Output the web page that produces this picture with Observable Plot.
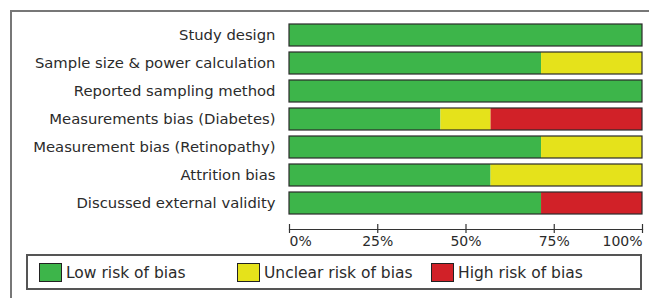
<!DOCTYPE html>
<html><head><meta charset="utf-8">
<script src="https://cdn.jsdelivr.net/npm/d3@7"></script>
<script src="https://cdn.jsdelivr.net/npm/@observablehq/plot@0.6"></script>
<style>
body{margin:0;background:#fff;font-family:"DejaVu Sans",Verdana,sans-serif;}
#wrap{position:relative;width:649px;height:298px;overflow:hidden;background:#fff;}
#frame{position:absolute;left:10px;top:10px;width:700px;height:400px;border:2px solid #777;box-sizing:border-box;}
#chart{position:absolute;left:0;top:0;}
#legend{position:absolute;left:26px;top:254px;width:616px;height:36px;border:2px solid #555;box-sizing:border-box;font-size:15.5px;color:#2b2b2b;}
.item{position:absolute;top:7px;display:flex;align-items:center;white-space:nowrap;}
.sw{width:23px;height:19px;border:1.5px solid #222;box-sizing:border-box;margin-right:4px;}
</style></head><body>
<div id="wrap"><div id="frame"></div><div id="chart"></div><div id="legend"></div></div>
<script>
const domains = ["Study design","Sample size & power calculation","Reported sampling method","Measurements bias (Diabetes)","Measurement bias (Retinopathy)","Attrition bias","Discussed external validity"];
const low = [100, 71.4, 100, 42.9, 71.4, 57.1, 71.4];
const unclear = [0, 28.6, 0, 14.2, 28.6, 42.9, 0];
const high = [0, 0, 0, 42.9, 0, 0, 28.6];
const categories = ["Low risk of bias","Unclear risk of bias","High risk of bias"];
const colors = ["#3db54a","#e5e21b","#d12128"];
const tickValues = [0, 25, 50, 75, 100];
const tickLabels = ["0%","25%","50%","75%","100%"];
const legendLeft = [11, 209, 403];

const series = [low, unclear, high];
const data = [];
domains.forEach((d, i) => categories.forEach((c, j) => data.push({domain: d, risk: c, value: series[j][i]})));
const fmt = v => tickLabels[tickValues.indexOf(v)];

const plot = Plot.plot({
  width: 649, height: 250,
  marginLeft: 289, marginRight: 7, marginTop: 19, marginBottom: 31,
  style: {fontFamily: "DejaVu Sans, Verdana, sans-serif", fontSize: "14.8px", color: "#2b2b2b", background: "transparent"},
  x: {domain: [0, 100], axis: null},
  y: {domain: domains, paddingInner: 0.23, paddingOuter: 0.115, axis: null},
  color: {domain: categories, range: colors},
  marks: [
    Plot.barX(data, {x: "value", y: "domain", fill: "risk", order: categories}),
    Plot.barX(domains, {x1: 0, x2: 100, y: d => d, fill: "none", stroke: "#2a2a2a", strokeWidth: 1.2}),
    Plot.axisY({tickSize: 0, tickPadding: 14, fontSize: 14.8, fill: "#2b2b2b", label: null}),
    Plot.frame({anchor: "bottom", dy: 10, stroke: "#333", strokeWidth: 1.2}),
    Plot.axisX({ticks: tickValues, tickSize: 9, dy: 5, text: null, stroke: "#333", strokeWidth: 1.2, label: null}),
    Plot.axisX({ticks: [tickValues[0]], tickSize: 0, tickPadding: 17, tickFormat: fmt, textAnchor: "start", fontSize: 14, fill: "#2b2b2b", label: null}),
    Plot.axisX({ticks: tickValues.slice(1, 4), tickSize: 0, tickPadding: 17, tickFormat: fmt, textAnchor: "middle", fontSize: 14, fill: "#2b2b2b", label: null}),
    Plot.axisX({ticks: [tickValues[4]], tickSize: 0, tickPadding: 17, tickFormat: fmt, textAnchor: "end", fontSize: 14, fill: "#2b2b2b", label: null})
  ]
});
document.getElementById("chart").appendChild(plot);

const leg = document.getElementById("legend");
categories.forEach((c, j) => {
  const it = document.createElement("div");
  it.className = "item";
  it.style.left = legendLeft[j] + "px";
  const sw = document.createElement("div");
  sw.className = "sw";
  sw.style.background = colors[j];
  const t = document.createElement("span");
  t.textContent = c;
  it.appendChild(sw); it.appendChild(t);
  leg.appendChild(it);
});
</script>
</body></html>
